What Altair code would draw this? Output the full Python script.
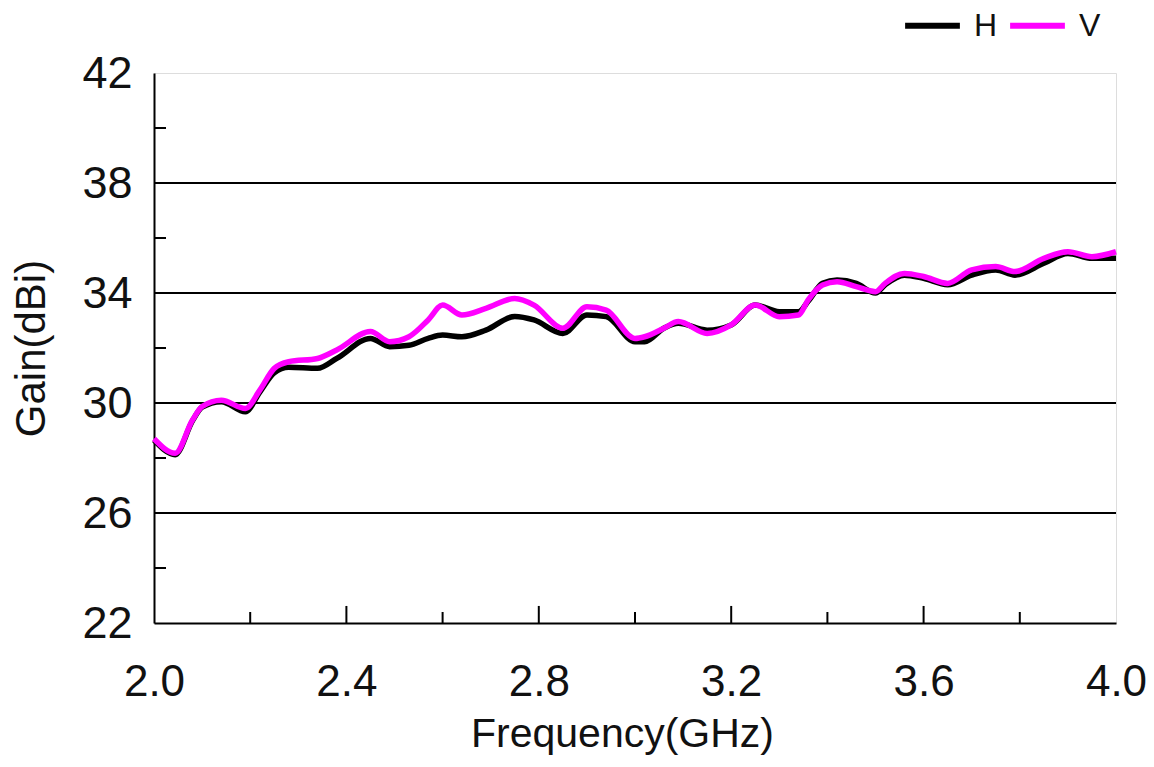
import altair as alt
import pandas as pd

freq_v = [2.00, 2.044, 2.08, 2.10, 2.14, 2.19, 2.22, 2.25, 2.28, 2.34, 2.38, 2.45, 2.49, 2.53, 2.57, 2.60,
          2.64, 2.69, 2.75, 2.79, 2.85, 2.90, 2.94, 3.00, 3.02, 3.06, 3.09, 3.15, 3.20, 3.25, 3.30, 3.34,
          3.36, 3.39, 3.42, 3.46, 3.50, 3.52, 3.56, 3.60, 3.65, 3.70, 3.75, 3.79, 3.85, 3.90, 3.95, 4.00]
gain_v = [28.70, 28.17, 29.38, 29.87, 30.10, 29.80, 30.47, 31.26, 31.50, 31.62, 31.93, 32.60, 32.23, 32.41,
          33.02, 33.56, 33.20, 33.44, 33.80, 33.56, 32.72, 33.50, 33.38, 32.35, 32.41, 32.72, 32.96, 32.53,
          32.84, 33.56, 33.14, 33.20, 33.75, 34.29, 34.41, 34.23, 34.05, 34.35, 34.71, 34.60, 34.35, 34.84,
          34.96, 34.78, 35.26, 35.50, 35.32, 35.50]
freq_h = freq_v
gain_h = [28.65, 28.12, 29.35, 29.85, 30.05, 29.68, 30.40, 31.10, 31.30, 31.26, 31.62, 32.35, 32.05, 32.10,
          32.35, 32.47, 32.41, 32.65, 33.15, 33.02, 32.53, 33.20, 33.14, 32.23, 32.23, 32.72, 32.90, 32.65,
          32.84, 33.56, 33.32, 33.32, 33.70, 34.35, 34.47, 34.35, 34.00, 34.30, 34.65, 34.53, 34.30, 34.65,
          34.84, 34.65, 35.08, 35.44, 35.26, 35.26]

x_labels = [2.0, 2.4, 2.8, 3.2, 3.6, 4.0]
x_minor = [2.2, 2.6, 3.0, 3.4, 3.8]
x_major_inner = [2.4, 2.8, 3.2, 3.6]
y_labels = [22, 26, 30, 34, 38, 42]
y_grid = [26, 30, 34, 38]
y_minor = [24, 28, 32, 36, 40]

df = pd.concat([
    pd.DataFrame({"f": freq_h, "g": gain_h, "s": "H", "o": 0}),
    pd.DataFrame({"f": freq_v, "g": gain_v, "s": "V", "o": 1}),
])

xs = alt.Scale(domain=[2, 4], nice=False, zero=False)
ys = alt.Scale(domain=[22, 42], nice=False, zero=False)
font = "Liberation Sans"

grid = alt.Chart(pd.DataFrame({"y": y_grid})).mark_rule(color="#000", strokeWidth=2).encode(
    y=alt.Y("y:Q", scale=ys), x=alt.value(0), x2=alt.value(962))

xmin = alt.Chart(pd.DataFrame({"x": x_minor})).mark_rule(color="#000", strokeWidth=2).encode(
    x=alt.X("x:Q", scale=xs), y=alt.datum(22, scale=ys), y2=alt.datum(22.4))
xmaj = alt.Chart(pd.DataFrame({"x": x_major_inner})).mark_rule(color="#000", strokeWidth=2).encode(
    x=alt.X("x:Q", scale=xs), y=alt.datum(22, scale=ys), y2=alt.datum(22.62))
ymin = alt.Chart(pd.DataFrame({"y": y_minor})).mark_rule(color="#000", strokeWidth=2).encode(
    y=alt.Y("y:Q", scale=ys), x=alt.datum(2.0, scale=xs), x2=alt.datum(2.025))

lines = alt.Chart(df).mark_line(strokeWidth=5.5, interpolate="monotone").encode(
    x=alt.X("f:Q", scale=xs, title="Frequency(GHz)",
            axis=alt.Axis(values=x_labels, format=".1f", ticks=False, grid=False,
                          domainColor="#000", domainWidth=2, labelFontSize=44, labelFont=font,
                          labelColor="#111", labelPadding=37, titleFontSize=41, titleFont=font,
                          titleFontWeight="normal", titleColor="#111", titlePadding=10,
                          titleX=468, titleAlign="center", labelFlush=False)),
    y=alt.Y("g:Q", scale=ys, title="Gain(dBi)",
            axis=alt.Axis(values=y_labels, ticks=False, grid=False, domainColor="#000",
                          domainWidth=2, labelFontSize=45, labelFont=font, labelColor="#111",
                          labelPadding=22, titleFontSize=42, titleFont=font, titleFontWeight="normal",
                          titleColor="#111", titlePadding=28)),
    color=alt.Color("s:N", scale=alt.Scale(domain=["H", "V"], range=["#000000", "#ff00ff"]),
                    legend=alt.Legend(title=None, orient="none", legendX=748, legendY=-78,
                                      direction="horizontal", symbolType="stroke",
                                      symbolStrokeWidth=6, symbolSize=3000, labelFontSize=32,
                                      labelFont=font, labelColor="#111", columnPadding=0,
                                      labelOffset=11)),
    order="o:Q",
)

chart = alt.layer(grid, xmin, xmaj, ymin, lines).properties(
    width=962, height=550,
    autosize=alt.AutoSizeParams(type="none"),
    padding={"left": 146, "top": 65, "right": 30, "bottom": 135},
).configure_view(stroke="#aaaaaa", strokeWidth=2).configure(background="white")

chart.save("out.html", embed_options={"renderer": "svg", "actions": False})
